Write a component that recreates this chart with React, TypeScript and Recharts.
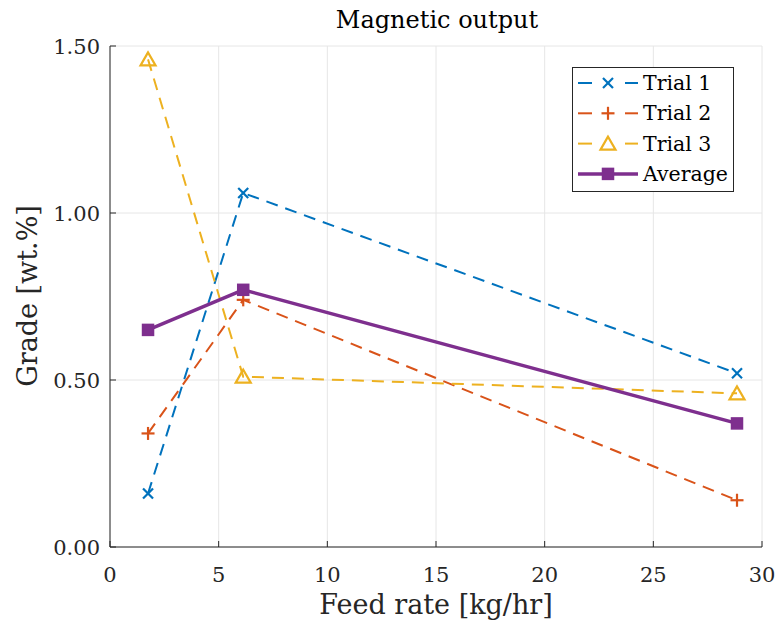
import { LineChart, Line, XAxis, YAxis, CartesianGrid } from "recharts";

const feedRate = [1.75, 6.13, 28.85];
const trial1 = [0.16, 1.06, 0.52];
const trial2 = [0.34, 0.74, 0.14];
const trial3 = [1.46, 0.51, 0.46];
const average = [0.65, 0.77, 0.37];
const xTicks = [0, 5, 10, 15, 20, 25, 30];
const yTicks = [0, 0.5, 1, 1.5];

const data = feedRate.map((x, i) => ({
  x,
  t1: trial1[i],
  t2: trial2[i],
  t3: trial3[i],
  avg: average[i],
}));

const FONT = "'DejaVu Serif', serif";
const AX = "#262626";
const C1 = "#0072BD";
const C2 = "#D95319";
const C3 = "#EDB120";
const C4 = "#7E2F8E";

function Marker({ kind, cx, cy, color }: { kind: string; cx: number; cy: number; color: string }) {
  const s = 5;
  if (kind === "x")
    return (
      <g stroke={color} strokeWidth={2.2}>
        <line x1={cx - s} y1={cy - s} x2={cx + s} y2={cy + s} />
        <line x1={cx - s} y1={cy + s} x2={cx + s} y2={cy - s} />
      </g>
    );
  if (kind === "+")
    return (
      <g stroke={color} strokeWidth={2.2}>
        <line x1={cx - 6.5} y1={cy} x2={cx + 6.5} y2={cy} />
        <line x1={cx} y1={cy - 6.5} x2={cx} y2={cy + 6.5} />
      </g>
    );
  if (kind === "tri")
    return (
      <polygon
        points={`${cx},${cy - 7} ${cx - 7.5},${cy + 6} ${cx + 7.5},${cy + 6}`}
        fill="none"
        stroke={color}
        strokeWidth={2.2}
      />
    );
  return <rect x={cx - 5.5} y={cy - 5.5} width={11} height={11} fill={color} stroke={color} strokeWidth={1.5} />;
}

const dotFor = (kind: string, color: string) => (p: any) =>
  <Marker key={`${kind}-${p.index}`} kind={kind} cx={p.cx} cy={p.cy} color={color} />;

const XTick = (p: any) => (
  <g>
    <line x1={p.x} y1={p.y} x2={p.x} y2={p.y - 6} stroke={AX} strokeWidth={1} />
    <text x={p.x} y={p.y + 35} textAnchor="middle" fontFamily={FONT} fontSize={21} fill={AX}>
      {p.payload.value}
    </text>
  </g>
);
const XTopTick = (p: any) => <line x1={p.x} y1={p.y} x2={p.x} y2={p.y + 6} stroke={AX} strokeWidth={1} />;
const YTick = (p: any) => (
  <g>
    <line x1={p.x} y1={p.y} x2={p.x + 6} y2={p.y} stroke={AX} strokeWidth={1} />
    <text x={p.x - 10} y={p.y + 7.5} textAnchor="end" fontFamily={FONT} fontSize={21} fill={AX}>
      {Number(p.payload.value).toFixed(2)}
    </text>
  </g>
);
const YRightTick = (p: any) => <line x1={p.x} y1={p.y} x2={p.x - 6} y2={p.y} stroke={AX} strokeWidth={1} />;

const legendItems = [
  { name: "Trial 1", color: C1, kind: "x", dash: true },
  { name: "Trial 2", color: C2, kind: "+", dash: true },
  { name: "Trial 3", color: C3, kind: "tri", dash: true },
  { name: "Average", color: C4, kind: "sq", dash: false },
];

const Overlay = () => (
  <svg width={777} height={630} style={{ position: "absolute", left: 0, top: 0, pointerEvents: "none" }}>
    <text x={437} y={28} textAnchor="middle" fontFamily={FONT} fontSize={24} fill="#000">
      Magnetic output
    </text>
    <text x={436} y={614} textAnchor="middle" fontFamily={FONT} fontSize={27} fill={AX}>
      Feed rate [kg/hr]
    </text>
    <text
      transform="translate(37,296) rotate(-90)"
      textAnchor="middle"
      fontFamily={FONT}
      fontSize={27}
      fill={AX}
    >
      Grade [wt.%]
    </text>
    <rect x={572.5} y={67.5} width={161} height={124} fill="#fff" stroke={AX} strokeWidth={1} />
    {legendItems.map((it, i) => {
      const y = 83 + i * 30.3;
      return (
        <g key={it.name}>
          {it.dash ? (
            <g stroke={it.color} strokeWidth={2}>
              <line x1={578} y1={y} x2={592} y2={y} />
              <line x1={625} y1={y} x2={638} y2={y} />
            </g>
          ) : (
            <line x1={578} y1={y} x2={638} y2={y} stroke={it.color} strokeWidth={3.5} />
          )}
          <Marker kind={it.kind} cx={608} cy={y} color={it.color} />
          <text x={643} y={y + 7} fontFamily={FONT} fontSize={20.5} fill="#000">
            {it.name}
          </text>
        </g>
      );
    })}
  </svg>
);

export default function App() {
  return (
    <div style={{ position: "absolute", left: 0, top: 0, width: 777, height: 630, background: "#fff" }}>
      <LineChart width={777} height={630} data={data} margin={{ top: 46, right: 15, bottom: 0, left: 0 }}>
        <CartesianGrid stroke="#e6e6e6" strokeWidth={1} />
        <XAxis
          dataKey="x"
          type="number"
          domain={[0, 30]}
          ticks={xTicks}
          height={83}
          tickSize={0}
          tickMargin={0}
          tickLine={false}
          axisLine={{ stroke: AX, strokeWidth: 1 }}
          tick={XTick}
          interval={0}
        />
        <XAxis
          xAxisId="top"
          orientation="top"
          dataKey="x"
          type="number"
          domain={[0, 30]}
          ticks={xTicks}
          height={0}
          tickSize={0}
          tickMargin={0}
          tickLine={false}
          axisLine={{ stroke: AX, strokeWidth: 1 }}
          tick={XTopTick}
          interval={0}
        />
        <YAxis
          type="number"
          domain={[0, 1.5]}
          ticks={yTicks}
          width={110}
          tickSize={0}
          tickMargin={0}
          tickLine={false}
          axisLine={{ stroke: AX, strokeWidth: 1 }}
          tick={YTick}
          interval={0}
        />
        <YAxis
          yAxisId="right"
          orientation="right"
          type="number"
          domain={[0, 1.5]}
          ticks={yTicks}
          width={0}
          tickSize={0}
          tickMargin={0}
          tickLine={false}
          axisLine={{ stroke: AX, strokeWidth: 1 }}
          tick={YRightTick}
          interval={0}
        />
        <Line
          dataKey="t1"
          stroke={C1}
          strokeWidth={2}
          strokeDasharray="12 8"
          dot={dotFor("x", C1)}
          isAnimationActive={false}
        />
        <Line
          dataKey="t2"
          stroke={C2}
          strokeWidth={2}
          strokeDasharray="12 8"
          dot={dotFor("+", C2)}
          isAnimationActive={false}
        />
        <Line
          dataKey="t3"
          stroke={C3}
          strokeWidth={2}
          strokeDasharray="12 8"
          dot={dotFor("tri", C3)}
          isAnimationActive={false}
        />
        <Line
          dataKey="avg"
          stroke={C4}
          strokeWidth={3.5}
          dot={dotFor("sq", C4)}
          isAnimationActive={false}
        />
      </LineChart>
      <Overlay />
    </div>
  );
}
